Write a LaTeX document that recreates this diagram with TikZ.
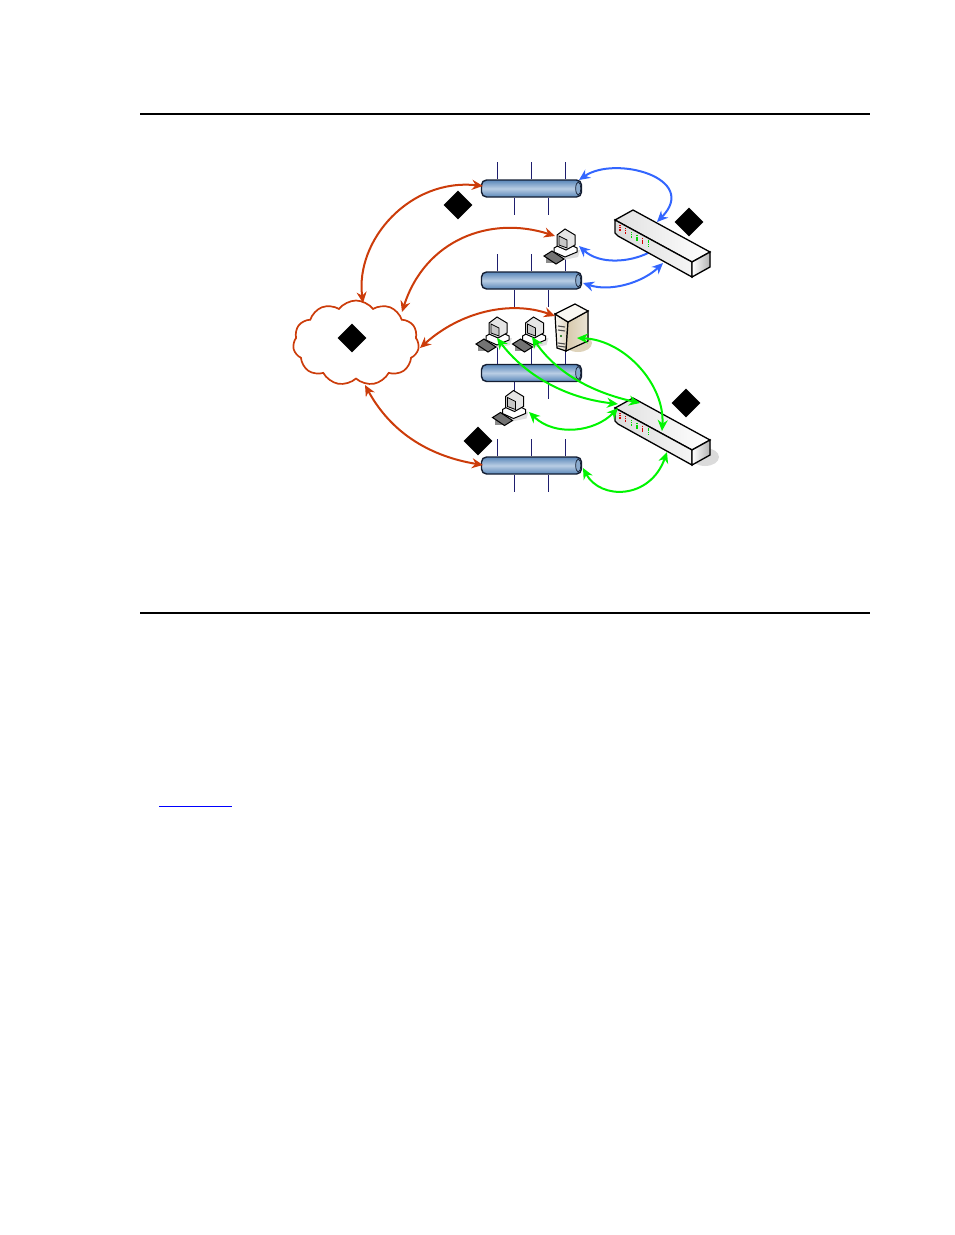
\documentclass[tikz,border=0pt]{standalone}
\usepackage{tikz}
\usepackage[dvipsnames]{xcolor}
\usetikzlibrary{arrows.meta}
\usetikzlibrary{shapes.geometric}
\usetikzlibrary{shapes.symbols}
\definecolor{wanred}{RGB}{204,60,10}
\definecolor{lanblue}{RGB}{51,102,255}
\definecolor{langreen}{RGB}{0,245,0}
\definecolor{stubblue}{RGB}{30,30,110}
\definecolor{tubeedge}{RGB}{20,30,50}
\definecolor{tubedark}{RGB}{90,135,185}
\definecolor{tubelite}{RGB}{185,205,228}
\definecolor{servtan}{RGB}{214,200,170}
\tikzset{
  bus/.style={draw=tubeedge,line width=1.4pt,rounded corners=5pt,minimum width=100pt,minimum height=17pt,inner sep=0pt,top color=tubedark,bottom color=tubedark,middle color=tubelite},
  mark box/.style={diamond,fill=black,minimum width=29pt,minimum height=29pt,inner sep=0pt,aspect=1},
  wan/.style={cloud,cloud puffs=11,cloud puff arc=105,aspect=1.5,draw=wanred,line width=1.7pt,fill=white,minimum width=126pt,minimum height=85pt,inner sep=0pt},
  link/.style={line width=2pt,>={Stealth[length=11pt,width=10pt]}},
  pics/switchbox/.style={code={
    \filldraw[draw=black,line width=1.3pt,left color=white!88!black,right color=white] (0,0) -- (18,-10) -- (95,32) -- (77,42) -- cycle;
    \filldraw[draw=black,line width=1.3pt,left color=white!86!black,right color=white!96!black] (0,0) -- (77,42) -- (77,57) -- (3,16) -- (0,13) -- cycle;
    \filldraw[draw=black,line width=1.3pt,left color=white,right color=white!70!black] (77,42) -- (95,32) -- (95,47) -- (77,57) -- cycle;
    \foreach \x/\y/\c in {5/8/red,10.7/11/red,16.7/15/green,22/17.7/green,27.7/20.7/red,33.7/23.3/green}{
      \draw[\c!85!black,line width=1.4pt,dash pattern=on 1.2pt off .6pt] (\x,\y-3) -- (\x,\y+3);}
  }},
  pics/desktop/.style={code={
    \fill[black!12] (-14,6) -- (17,3) -- (15,10) -- (-14,16) -- cycle;
    \fill[black!45] (-17,10) -- (-10,10) -- (-10,16) -- (-17,16) -- cycle;
    \filldraw[draw=black,fill=black!55,line width=1pt] (-19,9) -- (-11,4) -- (1,12) -- (-7,17) -- cycle;
    \filldraw[draw=black,fill=white,line width=1pt] (-9,1) -- (2,-5) -- (14,1) -- (14,5) -- (2,10) -- (-9,5) -- cycle;
    \filldraw[draw=black,fill=white!90!black,line width=1pt] (-6,-12) -- (2,-18) -- (12,-12) -- (12,-2) -- (3,3) -- (-6,-1) -- cycle;
    \filldraw[draw=black,fill=black!22,line width=.8pt] (-4,-11) -- (4,-7) -- (4,1) -- (-4,-2) -- cycle;
  }},
}
\begin{document}
\begin{tikzpicture}[x=1pt,y=-1pt]
  \useasboundingbox (0,0) rectangle (954,1235);
  \draw[line width=1.5pt] (140,114) -- (870,114);
  \draw[line width=1.5pt] (140,613) -- (870,613);
  \draw[blue,line width=1pt] (159,806) -- (232,806);

  \node[bus] (busA) at (531.5,188.5) {};
  \node[bus] (busB) at (531.5,280.5) {};
  \node[bus] (busC) at (531.5,373) {};
  \node[bus] (busD) at (531.5,465.5) {};
  \foreach \b in {busA,busB,busC,busD}{
    \foreach \x in {-34,0,34}{\draw[stubblue,line width=.9pt] (\b.north) ++(\x,0) -- ++(0,-17);}
    \foreach \x in {-17,17}{\draw[stubblue,line width=.9pt] (\b.south) ++(\x,0) -- ++(0,17);}
    \draw[tubeedge,fill=tubedark!70,line width=.7pt] (\b.east) ++(-4,0) ellipse (2.5 and 6.5);
  }

  \foreach \n/\x/\y in {blueAa/579/180,blueAb/657/222,blueBa/579/246,blueBb/648/253,blueCa/583/283,blueCb/663/263,
    greenAa/577/338,greenAb/662/431,greenBa/497/338,greenBb/618/404,greenCa/532/337,greenCb/640/403,
    greenDa/529/412,greenDb/618/408,greenEa/583/468,greenEb/667/452,
    redAa/483/186,redAb/363/303,redBa/555/236,redBb/402/312,redCa/555/316,redCb/420/348,redDa/365/385,redDb/483/465}{
    \coordinate (\n) at (\x,\y);}

  \draw[link,<-,lanblue] (blueBa) .. controls (600,265) and (630,262) .. (blueBb);
  \fill[black!14] (705,457) ellipse (14 and 9);
  \pic (switchA) at (615,220) {switchbox};
  \pic (switchB) at (615,408) {switchbox};
  \pic (pcA) at (563,247) {desktop};
  \pic (pcB) at (495,335) {desktop};
  \pic (pcC) at (531.5,335) {desktop};
  \pic (pcD) at (511.5,408.5) {desktop};

  \fill[servtan!80] (578,343) ellipse (14 and 9);
  \filldraw[draw=black,line width=1.2pt,left color=white!88!servtan,right color=servtan!80] (555,314) -- (568,322) -- (566,351) -- (557,348) -- cycle;
  \filldraw[draw=black,line width=1.2pt,left color=servtan,right color=servtan!50] (568,322) -- (588,311) -- (588,341) -- (566,351) -- cycle;
  \filldraw[draw=black,line width=1.2pt,fill=white!85!servtan] (575,304) -- (555,314) -- (568,322) -- (588,311) -- cycle;
  \foreach \y in {326,330,343,346}{\draw[black!70,line width=1.1pt] (558,\y) -- (565,\y+1);}
  \fill[black!60!green] (561,336) circle (1.2);

  \node[wan] (wanCloud) at (356,343) {};
  \node[mark box] (markA) at (458,205) {};
  \node[mark box] (markB) at (689,222) {};
  \node[mark box] (markC) at (352,338) {};
  \node[mark box] (markD) at (686,403) {};
  \node[mark box] (markE) at (478,441) {};

  \draw[link,<->,lanblue] (blueAa) .. controls (615,155) and (700,178) .. (blueAb);
  \draw[link,<->,lanblue] (blueCa) .. controls (610,292) and (642,283) .. (blueCb);

  \draw[link,<->,langreen] (greenAa) .. controls (625,340) and (665,385) .. (greenAb);
  \draw[link,<->,langreen] (greenBa) .. controls (525,375) and (565,398) .. (greenBb);
  \draw[link,<->,langreen] (greenCa) .. controls (558,375) and (595,393) .. (greenCb);
  \draw[link,<->,langreen] (greenDa) .. controls (555,437) and (595,432) .. (greenDb);
  \draw[link,<->,langreen] (greenEa) .. controls (600,500) and (650,500) .. (greenEb);

  \draw[link,<->,wanred] (redAa) .. controls (410,178) and (355,240) .. (redAb);
  \draw[link,<->,wanred] (redBa) .. controls (490,215) and (425,240) .. (redBb);
  \draw[link,<->,wanred] (redCa) .. controls (510,300) and (460,312) .. (redCb);
  \draw[link,<->,wanred] (redDa) .. controls (395,440) and (440,458) .. (redDb);
\end{tikzpicture}
\end{document}
